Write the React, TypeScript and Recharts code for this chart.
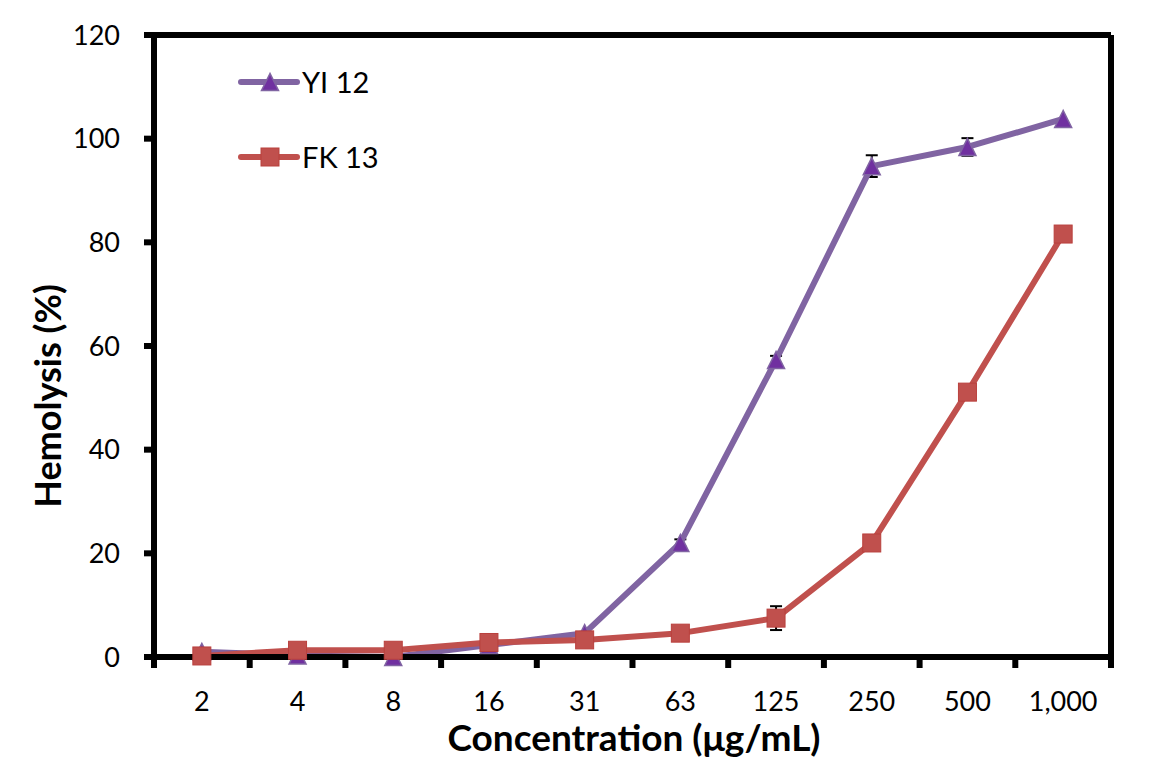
import {
  ErrorBar,
  Legend,
  Line,
  LineChart,
  XAxis,
  YAxis,
} from "recharts";

const concentrations = ["2", "4", "8", "16", "31", "63", "125", "250", "500", "1,000"];
const yi12 = [1.0, 0.3, 0, 2.3, 4.6, 22, 57.3, 94.7, 98.4, 103.8];
const yi12Err = [null, null, null, null, null, 0.7, 0.8, 2.1, 1.7, null];
const fk13 = [0.2, 1.3, 1.3, 2.8, 3.3, 4.6, 7.5, 22, 51.1, 81.6];
const fk13Err = [null, null, null, null, null, null, 2.3, null, null, null];
const yTicks = [0, 20, 40, 60, 80, 100, 120];

const data = concentrations.map((conc, i) => ({
  conc,
  yi: yi12[i],
  yiErr: yi12Err[i],
  fk: fk13[i],
  fkErr: fk13Err[i],
}));

const W = 1152;
const H = 762;
const LEFT = 154;
const RIGHT_M = 40;
const TOP = 34;
const X_AXIS_H = 105;
const PLOT_BOTTOM = H - X_AXIS_H;
const BAND = (W - LEFT - RIGHT_M - 1) / concentrations.length;

const PURPLE = "#8064A2";
const PURPLE_DARK = "#7030A0";
const RED = "#C0504D";
const FONT = "Lato, 'DejaVu Sans', sans-serif";
const AXIS = { stroke: "#000", strokeWidth: 6 };

function Triangle({ cx, cy, s = 17 }: { cx: number; cy: number; s?: number }) {
  const h = s / 2;
  return (
    <polygon
      points={`${cx},${cy - h} ${cx - h},${cy + h} ${cx + h},${cy + h}`}
      fill={PURPLE_DARK}
      stroke={PURPLE}
      strokeWidth={1.5}
    />
  );
}

function Square({ cx, cy, s = 18 }: { cx: number; cy: number; s?: number }) {
  return (
    <rect x={cx - s / 2} y={cy - s / 2} width={s} height={s} fill={RED} stroke="#B9403D" strokeWidth={1} />
  );
}

function XTick(props: any) {
  const { x, payload, index } = props;
  const left = x - BAND / 2;
  const last = index === concentrations.length - 1;
  return (
    <g>
      <line x1={left} x2={left} y1={PLOT_BOTTOM} y2={PLOT_BOTTOM + 11} stroke="#000" strokeWidth={6} />
      {last && (
        <line
          x1={x + BAND / 2}
          x2={x + BAND / 2}
          y1={PLOT_BOTTOM}
          y2={PLOT_BOTTOM + 11}
          stroke="#000"
          strokeWidth={6}
        />
      )}
      <text x={x} y={711} textAnchor="middle" fontSize={27} fill="#000" fontFamily={FONT}>
        {payload.value}
      </text>
    </g>
  );
}

function LegendBox() {
  return (
    <svg width={170} height={130} style={{ display: "block" }}>
      <line x1={11} x2={67} y1={22} y2={22} stroke={PURPLE} strokeWidth={6} strokeLinecap="round" />
      <Triangle cx={40} cy={22} />
      <text x={72} y={32.5} fontSize={29} fontFamily={FONT} fill="#000">
        YI 12
      </text>
      <line x1={11} x2={67} y1={97} y2={97} stroke={RED} strokeWidth={6} strokeLinecap="round" />
      <Square cx={40} cy={97} />
      <text x={72} y={107.5} fontSize={29} fontFamily={FONT} fill="#000">
        FK 13
      </text>
    </svg>
  );
}

export default function App() {
  return (
    <div style={{ position: "absolute", left: 0, top: 0, width: W, height: H, background: "#fff", fontFamily: FONT }}>
      <LineChart width={W} height={H} data={data} margin={{ top: TOP, right: RIGHT_M, bottom: 0, left: 0 }}>
        <XAxis
          dataKey="conc"
          scale="band"
          interval={0}
          height={X_AXIS_H}
          tickLine={false}
          tick={<XTick />}
          axisLine={AXIS}
          label={{
            content: () => (
              <text x={634} y={751} textAnchor="middle" fontSize={37} fontWeight={700} fontFamily={FONT} fill="#000">
                Concentration (μg/mL)
              </text>
            ),
          }}
        />
        <XAxis
          xAxisId="top"
          orientation="top"
          dataKey="conc"
          scale="band"
          height={1}
          tick={false}
          tickLine={false}
          axisLine={AXIS}
        />
        <YAxis
          domain={[0, 120]}
          ticks={yTicks}
          width={LEFT}
          tickSize={10}
          tickMargin={24}
          tickLine={AXIS}
          axisLine={AXIS}
          tick={{ fontSize: 27, fill: "#000", fontFamily: FONT }}
          label={{
            content: () => (
              <text
                x={47}
                y={396}
                transform="rotate(-90 47 396)"
                textAnchor="middle"
                dominantBaseline="central"
                fontSize={36}
                fontWeight={700}
                fontFamily={FONT}
                fill="#000"
              >
                Hemolysis (%)
              </text>
            ),
          }}
        />
        <YAxis
          yAxisId="right"
          orientation="right"
          domain={[0, 120]}
          width={1}
          tick={false}
          tickLine={false}
          axisLine={AXIS}
        />
        <Legend
          layout="vertical"
          align="center"
          verticalAlign="middle"
          wrapperStyle={{ left: 230, top: 60, width: 170 }}
          content={() => <LegendBox />}
        />
        <Line
          dataKey="yi"
          stroke={PURPLE}
          strokeWidth={6}
          strokeLinejoin="round"
          isAnimationActive={false}
          dot={(p: any) => <Triangle key={`yi-${p.index}`} cx={p.cx} cy={p.cy} />}
          activeDot={false}
        >
          <ErrorBar dataKey="yiErr" direction="y" width={6} stroke="#000" strokeWidth={2} isAnimationActive={false} />
        </Line>
        <Line
          dataKey="fk"
          stroke={RED}
          strokeWidth={6}
          strokeLinejoin="round"
          isAnimationActive={false}
          dot={(p: any) => <Square key={`fk-${p.index}`} cx={p.cx} cy={p.cy} />}
          activeDot={false}
        >
          <ErrorBar dataKey="fkErr" direction="y" width={6} stroke="#000" strokeWidth={2} isAnimationActive={false} />
        </Line>
      </LineChart>
    </div>
  );
}
